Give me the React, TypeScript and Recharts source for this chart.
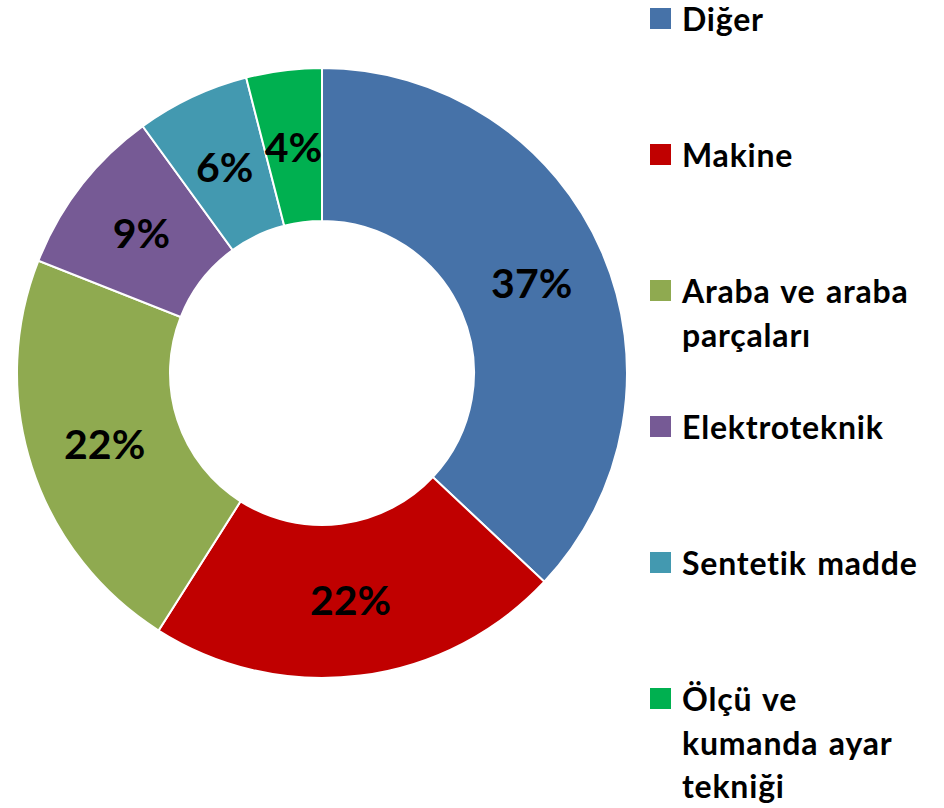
import { Cell, Pie, PieChart } from "recharts"

const categories = ["Diğer", "Makine", "Araba ve araba parçaları", "Elektroteknik", "Sentetik madde", "Ölçü ve kumanda ayar tekniği"]
const shares = [37, 22, 22, 9, 6, 4]
const legendLines = [["Diğer"], ["Makine"], ["Araba ve araba", "parçaları"], ["Elektroteknik"], ["Sentetik madde"], ["Ölçü ve", "kumanda ayar", "tekniği"]]
const colors = ["#4672A8", "#C00000", "#8FAA50", "#765A95", "#4399B0", "#00B050"]

const font = "Lato, 'Open Sans', sans-serif"

const renderLabel = (props: any) => {
  const { cx, cy, midAngle, innerRadius, outerRadius, value } = props
  const r = (innerRadius + outerRadius) / 2
  const rad = (Math.PI / 180) * midAngle
  const x = cx + r * Math.cos(rad)
  const y = cy - r * Math.sin(rad)
  return (
    <text x={x} y={y} textAnchor="middle" dominantBaseline="central" fill="#000" fontSize={41} fontWeight={700} fontFamily={font}>
      {value}%
    </text>
  )
}

export default function App() {
  const data = categories.map((name, i) => ({ name, value: shares[i] }))

  return (
    <div style={{ position: "relative", width: 944, height: 808, background: "#fff", fontFamily: font }}>
      <style>{"body{margin:0}"}</style>
      <PieChart width={944} height={808} margin={{ top: 0, right: 0, bottom: 0, left: 0 }}>
        <Pie
          data={data}
          dataKey="value"
          nameKey="name"
          cx={322}
          cy={373}
          innerRadius={152}
          outerRadius={305}
          startAngle={90}
          endAngle={-270}
          stroke="#fff"
          strokeWidth={2}
          label={renderLabel}
          labelLine={false}
          isAnimationActive={false}
        >
          {data.map((d, i) => (
            <Cell key={d.name} fill={colors[i]} />
          ))}
        </Pie>
      </PieChart>
      <div style={{ position: "absolute", left: 650, top: 3, width: 294 }}>
        {legendLines.map((lines, i) => (
          <div key={i} style={{ position: "absolute", top: 136 * i, left: 0, width: 294 }}>
            <div style={{ position: "absolute", left: 0, top: 5, width: 21, height: 21, background: colors[i] }} />
            <div
              style={{
                marginLeft: 32,
                fontSize: 32,
                fontWeight: 700,
                letterSpacing: 0.8,
                wordSpacing: 2,
                color: "#000",
                whiteSpace: "nowrap",
              }}
            >
              {lines.map((l, j) => (
                <div key={l} style={{ lineHeight: "32px", marginTop: j === 0 ? 0 : 11.5 }}>
                  {l}
                </div>
              ))}
            </div>
          </div>
        ))}
      </div>
    </div>
  )
}
